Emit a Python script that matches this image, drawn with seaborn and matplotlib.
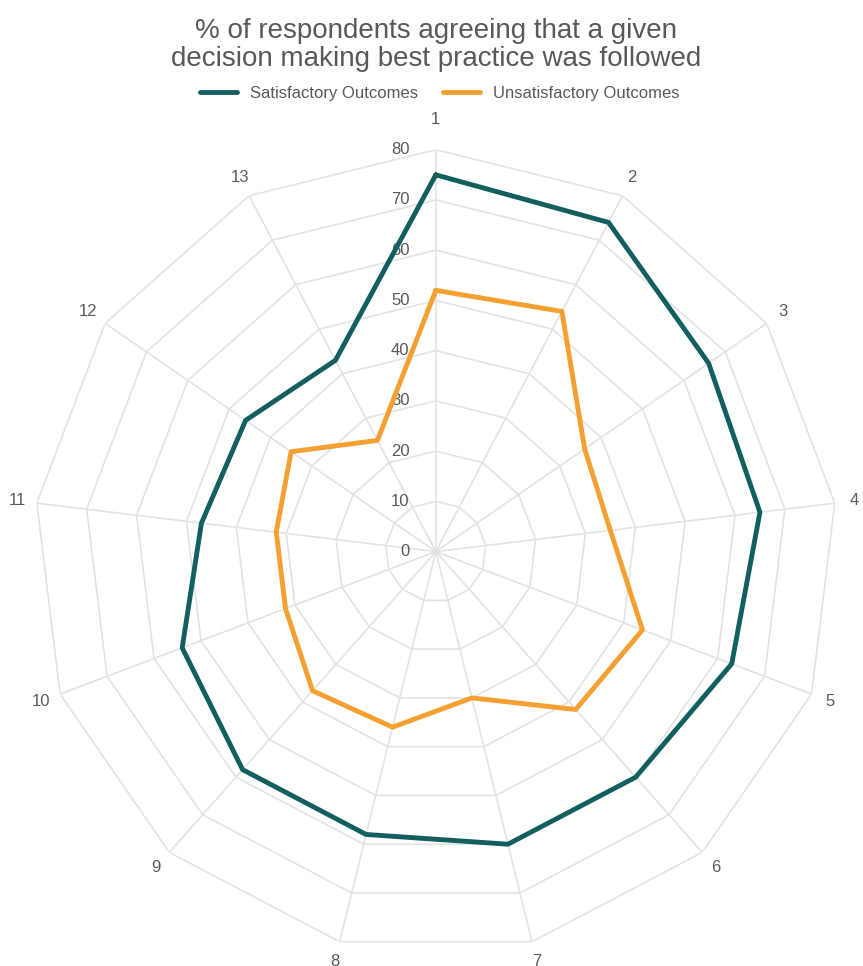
import matplotlib
matplotlib.use("Agg")
import matplotlib.pyplot as plt
from matplotlib.transforms import offset_copy
import numpy as np
import seaborn as sns

categories = [str(i) for i in range(1, 14)]
satisfactory = [75, 74, 66, 65, 63, 60, 60, 58, 58, 54, 47, 46, 43]
unsatisfactory = [52, 54, 36, 35, 44, 42, 30, 36, 37, 32, 32, 35, 25]
levels = [0, 10, 20, 30, 40, 50, 60, 70, 80]

sns.set_theme(style="white")
plt.rcParams['font.family'] = ['Liberation Sans', 'DejaVu Sans']

n = len(categories)
angles = np.linspace(0, 2 * np.pi, n, endpoint=False)
closed = np.append(angles, angles[0])

fig = plt.figure(figsize=(8.63, 9.66), dpi=100)
ax = fig.add_axes([0.039, 0.013, 0.932, 0.832], projection='polar')
ax.set_theta_zero_location('N')
ax.set_theta_direction(-1)
ax.set_ylim(0, 80)
ax.grid(False)
ax.spines['polar'].set_visible(False)
ax.set_xticks([])
ax.set_yticks([])

grid_color = '#e3e3e3'
for lv in levels[1:]:
    ax.plot(closed, [lv] * (n + 1), color=grid_color, lw=1.2, zorder=1)
for a in angles:
    ax.plot([a, a], [0, 80], color=grid_color, lw=1.2, zorder=1)

# radial tick labels sit just left of the top spoke
tick_tf = offset_copy(ax.transData, fig=fig, x=-19, y=0, units='points')
for lv in levels:
    ax.text(0, lv, str(lv), ha='right', va='center', fontsize=12, color='#595959',
            transform=tick_tf, clip_on=False)

for a, c in zip(angles, categories):
    r = 84 if c not in ('1',) else 86
    ax.text(a, r, c, ha='center', va='center', fontsize=12, color='#595959', clip_on=False)

palette = {'Satisfactory Outcomes': '#135f5f', 'Unsatisfactory Outcomes': '#f5a033'}
ax.plot(closed, satisfactory + satisfactory[:1], color=palette['Satisfactory Outcomes'],
        lw=3.5, label='Satisfactory Outcomes', zorder=3)
ax.plot(closed, unsatisfactory + unsatisfactory[:1], color=palette['Unsatisfactory Outcomes'],
        lw=3.5, label='Unsatisfactory Outcomes', zorder=3)

fig.text(0.505, 0.953, "% of respondents agreeing that a given\ndecision making best practice was followed",
         ha='center', va='center', fontsize=20, color='#595959', linespacing=1.1)
fig.legend(loc='center', bbox_to_anchor=(0.51, 0.903), ncol=2, frameon=False,
           fontsize=12, labelcolor='#595959', handlelength=2.2, columnspacing=1.5)

fig.savefig('out.png', dpi=100)
